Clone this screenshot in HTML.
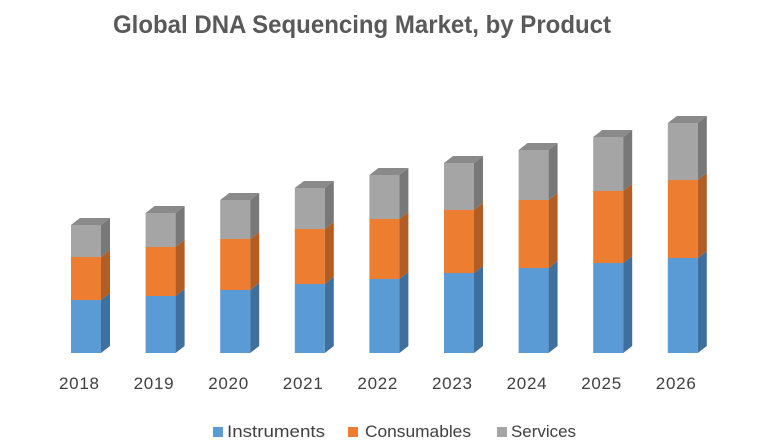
<!DOCTYPE html>
<html><head><meta charset="utf-8"><style>
html,body{margin:0;padding:0;background:#fff;}
svg{display:block;}
text{font-family:"Liberation Sans",sans-serif;}
</style></head><body>
<svg width="780" height="440" viewBox="0 0 780 440" xmlns="http://www.w3.org/2000/svg">
<text x="113" y="33" font-size="25" font-weight="bold" fill="#595959" textLength="498" lengthAdjust="spacingAndGlyphs">Global DNA Sequencing Market, by Product</text>

<g transform="translate(71,0)">
<rect x="0" y="300" width="30" height="53" fill="#5b9bd5"/><polygon points="30,300 39,293 39,346 30,353" fill="#3f6f9c"/>
<rect x="0" y="257" width="30" height="43" fill="#ed7d31"/><polygon points="30,257 39,250 39,293 30,300" fill="#b25d24"/>
<rect x="0" y="225" width="30" height="32" fill="#a5a5a5"/><polygon points="30,225 39,218 39,250 30,257" fill="#787878"/>
<polygon points="0,225 9,218 39,218 30,225" fill="#8a8a8a"/>
</g>
<g transform="translate(145.6,0)">
<rect x="0" y="296" width="30" height="57" fill="#5b9bd5"/><polygon points="30,296 39,289 39,346 30,353" fill="#3f6f9c"/>
<rect x="0" y="247" width="30" height="49" fill="#ed7d31"/><polygon points="30,247 39,240 39,289 30,296" fill="#b25d24"/>
<rect x="0" y="213" width="30" height="34" fill="#a5a5a5"/><polygon points="30,213 39,206 39,240 30,247" fill="#787878"/>
<polygon points="0,213 9,206 39,206 30,213" fill="#8a8a8a"/>
</g>
<g transform="translate(220.2,0)">
<rect x="0" y="290" width="30" height="63" fill="#5b9bd5"/><polygon points="30,290 39,283 39,346 30,353" fill="#3f6f9c"/>
<rect x="0" y="239" width="30" height="51" fill="#ed7d31"/><polygon points="30,239 39,232 39,283 30,290" fill="#b25d24"/>
<rect x="0" y="200" width="30" height="39" fill="#a5a5a5"/><polygon points="30,200 39,193 39,232 30,239" fill="#787878"/>
<polygon points="0,200 9,193 39,193 30,200" fill="#8a8a8a"/>
</g>
<g transform="translate(294.8,0)">
<rect x="0" y="284" width="30" height="69" fill="#5b9bd5"/><polygon points="30,284 39,277 39,346 30,353" fill="#3f6f9c"/>
<rect x="0" y="229" width="30" height="55" fill="#ed7d31"/><polygon points="30,229 39,222 39,277 30,284" fill="#b25d24"/>
<rect x="0" y="188" width="30" height="41" fill="#a5a5a5"/><polygon points="30,188 39,181 39,222 30,229" fill="#787878"/>
<polygon points="0,188 9,181 39,181 30,188" fill="#8a8a8a"/>
</g>
<g transform="translate(369.4,0)">
<rect x="0" y="279" width="30" height="74" fill="#5b9bd5"/><polygon points="30,279 39,272 39,346 30,353" fill="#3f6f9c"/>
<rect x="0" y="219" width="30" height="60" fill="#ed7d31"/><polygon points="30,219 39,212 39,272 30,279" fill="#b25d24"/>
<rect x="0" y="175" width="30" height="44" fill="#a5a5a5"/><polygon points="30,175 39,168 39,212 30,219" fill="#787878"/>
<polygon points="0,175 9,168 39,168 30,175" fill="#8a8a8a"/>
</g>
<g transform="translate(444,0)">
<rect x="0" y="273" width="30" height="80" fill="#5b9bd5"/><polygon points="30,273 39,266 39,346 30,353" fill="#3f6f9c"/>
<rect x="0" y="210" width="30" height="63" fill="#ed7d31"/><polygon points="30,210 39,203 39,266 30,273" fill="#b25d24"/>
<rect x="0" y="163" width="30" height="47" fill="#a5a5a5"/><polygon points="30,163 39,156 39,203 30,210" fill="#787878"/>
<polygon points="0,163 9,156 39,156 30,163" fill="#8a8a8a"/>
</g>
<g transform="translate(518.6,0)">
<rect x="0" y="268" width="30" height="85" fill="#5b9bd5"/><polygon points="30,268 39,261 39,346 30,353" fill="#3f6f9c"/>
<rect x="0" y="200" width="30" height="68" fill="#ed7d31"/><polygon points="30,200 39,193 39,261 30,268" fill="#b25d24"/>
<rect x="0" y="150" width="30" height="50" fill="#a5a5a5"/><polygon points="30,150 39,143 39,193 30,200" fill="#787878"/>
<polygon points="0,150 9,143 39,143 30,150" fill="#8a8a8a"/>
</g>
<g transform="translate(593.2,0)">
<rect x="0" y="263" width="30" height="90" fill="#5b9bd5"/><polygon points="30,263 39,256 39,346 30,353" fill="#3f6f9c"/>
<rect x="0" y="191" width="30" height="72" fill="#ed7d31"/><polygon points="30,191 39,184 39,256 30,263" fill="#b25d24"/>
<rect x="0" y="137" width="30" height="54" fill="#a5a5a5"/><polygon points="30,137 39,130 39,184 30,191" fill="#787878"/>
<polygon points="0,137 9,130 39,130 30,137" fill="#8a8a8a"/>
</g>
<g transform="translate(667.8,0)">
<rect x="0" y="258" width="30" height="95" fill="#5b9bd5"/><polygon points="30,258 39,251 39,346 30,353" fill="#3f6f9c"/>
<rect x="0" y="180" width="30" height="78" fill="#ed7d31"/><polygon points="30,180 39,173 39,251 30,258" fill="#b25d24"/>
<rect x="0" y="123" width="30" height="57" fill="#a5a5a5"/><polygon points="30,123 39,116 39,173 30,180" fill="#787878"/>
<polygon points="0,123 9,116 39,116 30,123" fill="#8a8a8a"/>
</g>

<g font-size="17" fill="#404040" text-anchor="middle">
<text x="79" y="389" textLength="40">2018</text><text x="153.6" y="389" textLength="40">2019</text><text x="228.2" y="389" textLength="40">2020</text>
<text x="302.8" y="389" textLength="40">2021</text><text x="377.4" y="389" textLength="40">2022</text><text x="452" y="389" textLength="40">2023</text>
<text x="526.6" y="389" textLength="40">2024</text><text x="601.2" y="389" textLength="40">2025</text><text x="675.8" y="389" textLength="40">2026</text>
</g>
<rect x="213" y="427" width="10" height="10" fill="#5b9bd5"/>
<text x="227" y="437" font-size="17" fill="#404040" textLength="98" lengthAdjust="spacingAndGlyphs">Instruments</text>
<rect x="348" y="427" width="10" height="10" fill="#ed7d31"/>
<text x="365" y="437" font-size="17" fill="#404040" textLength="106" lengthAdjust="spacingAndGlyphs">Consumables</text>
<rect x="497" y="427" width="10" height="10" fill="#a5a5a5"/>
<text x="511" y="437" font-size="17" fill="#404040" textLength="65" lengthAdjust="spacingAndGlyphs">Services</text>
</svg>
</body></html>
